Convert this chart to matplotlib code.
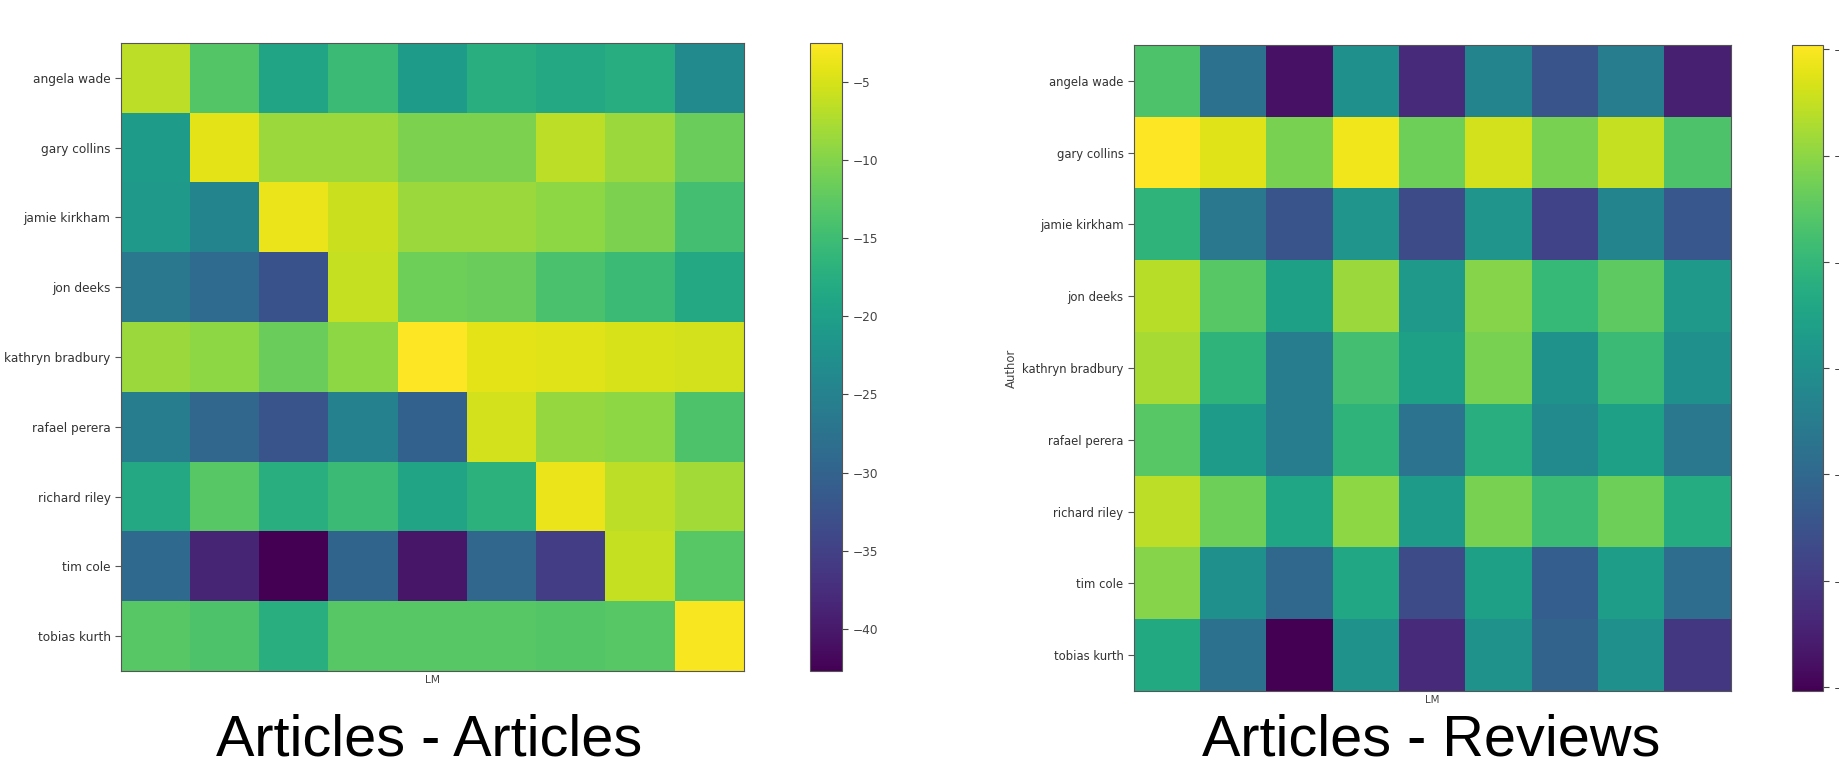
import matplotlib
matplotlib.use("Agg")
import matplotlib.pyplot as plt
import numpy as np

# auteurs (lignes) - 9 colonnes sans etiquettes
authors = ["angela wade", "gary collins", "jamie kirkham", "jon deeks",
           "kathryn bradbury", "rafael perera", "richard riley", "tim cole",
           "tobias kurth"]

# Articles - Articles
art_art = [
    [-6.5, -13.3, -19.3, -15.3, -20.5, -17.3, -18.5, -17.7, -23.4],
    [-20.5, -4.1, -8.5, -8.5, -10.5, -10.5, -6.5, -8.5, -11.7],
    [-20.9, -24.6, -3.7, -5.7, -8.5, -8.5, -9.3, -10.5, -14.5],
    [-26.6, -28.6, -32.6, -6.1, -11.3, -11.7, -14.1, -15.3, -18.5],
    [-8.5, -9.3, -11.7, -9.3, -2.5, -4.1, -4.5, -4.9, -5.3],
    [-25.8, -29.4, -32.2, -25.0, -30.2, -5.3, -8.9, -9.3, -13.7],
    [-18.5, -12.9, -17.3, -15.3, -19.3, -16.9, -3.7, -6.5, -8.1],
    [-29.0, -38.6, -42.7, -29.8, -40.2, -29.4, -35.4, -6.1, -12.9],
    [-12.9, -13.7, -17.3, -12.9, -12.9, -12.9, -13.3, -12.9, -2.9],
]

# Articles - Reviews
art_rev = [
    [-13.3, -23.9, -33.7, -20.0, -31.6, -21.5, -27.3, -22.4, -32.5],
    [-4.8, -6.3, -10.9, -5.4, -11.5, -6.9, -10.9, -7.5, -13.3],
    [-15.4, -23.0, -27.3, -19.4, -28.2, -19.4, -29.1, -21.5, -27.0],
    [-8.1, -12.7, -17.9, -9.4, -18.8, -10.3, -14.8, -12.4, -18.8],
    [-8.8, -15.4, -22.4, -13.9, -17.9, -10.9, -19.7, -14.5, -20.0],
    [-12.7, -18.5, -22.4, -15.4, -23.6, -16.0, -20.6, -17.9, -23.0],
    [-7.8, -11.5, -17.3, -10.0, -18.5, -10.9, -14.5, -11.5, -16.4],
    [-10.3, -20.0, -24.9, -17.0, -28.2, -17.9, -26.1, -18.2, -24.3],
    [-16.7, -23.9, -35.2, -19.7, -31.6, -19.7, -25.5, -20.0, -30.3],
]

cbar_ticks = [-40, -35, -30, -25, -20, -15, -10, -5]

W, H = 1839, 764

def box(x0, y0, x1, y1):
    # pixels (haut-gauche) -> fractions de la figure
    return [x0 / W, 1 - y1 / H, (x1 - x0) / W, (y1 - y0) / H]

fig = plt.figure(figsize=(W / 100, H / 100), dpi=100)

panels = [
    (art_art, box(121, 43, 744, 671), box(810, 43, 842, 671), -0.19, 8.7),
    (art_rev, box(1134, 45, 1731, 691), box(1792, 45, 1823, 691), -0.194, 8.4),
]

for data, ax_box, cb_box, ylab_x, fs in panels:
    ax = fig.add_axes(ax_box)
    im = ax.imshow(np.array(data), cmap="viridis", aspect="auto",
                   interpolation="nearest")
    ax.set_xticks([])
    ax.set_yticks(range(len(authors)))
    ax.set_yticklabels(authors, fontsize=fs, color="#333333")
    ax.tick_params(axis="y", length=4, width=0.8, color="#555555")
    ax.set_xlabel("LM", fontsize=fs - 1, color="#444444", labelpad=3)
    ax.set_ylabel("Author", fontsize=fs, color="#444444")
    ax.yaxis.set_label_coords(ylab_x, 0.5)
    for sp in ax.spines.values():
        sp.set_color("#555555")

    cax = fig.add_axes(cb_box)
    cb = fig.colorbar(im, cax=cax, ticks=cbar_ticks)
    cb.ax.tick_params(labelsize=fs, length=4, colors="#444444")
    cb.outline.set_edgecolor("#555555")

fig.text(429, H - 740, "Articles - Articles", transform=None,
         ha="center", va="center", fontsize=41.5, family="Liberation Sans")
fig.text(1431, H - 740, "Articles - Reviews", transform=None,
         ha="center", va="center", fontsize=41.5, family="Liberation Sans")

fig.savefig("out.png", dpi=100)
